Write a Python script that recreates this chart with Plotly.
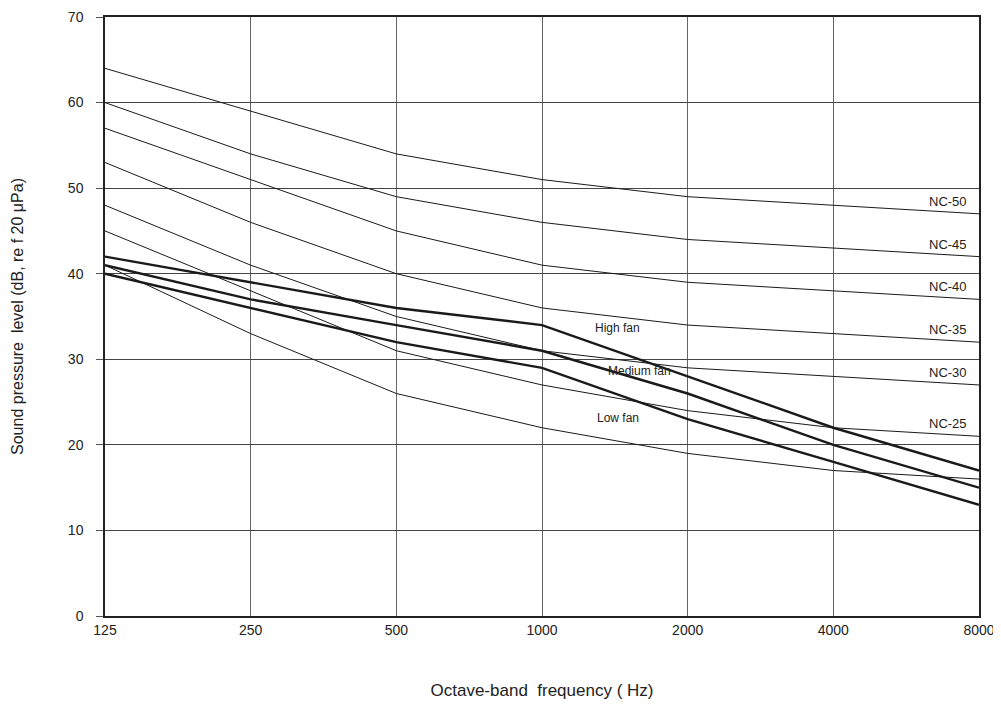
import plotly.graph_objects as go

freqs = ["125", "250", "500", "1000", "2000", "4000", "8000"]

nc_names = ["NC-50", "NC-45", "NC-40", "NC-35", "NC-30", "NC-25", "NC-20"]
nc50 = [64, 59, 54, 51, 49, 48, 47]
nc45 = [60, 54, 49, 46, 44, 43, 42]
nc40 = [57, 51, 45, 41, 39, 38, 37]
nc35 = [53, 46, 40, 36, 34, 33, 32]
nc30 = [48, 41, 35, 31, 29, 28, 27]
nc25 = [45, 38, 31, 27, 24, 22, 21]
nc20 = [41, 33, 26, 22, 19, 17, 16]
nc_curves = [nc50, nc45, nc40, nc35, nc30, nc25, nc20]
nc_labeled = [True, True, True, True, True, True, False]

fan_names = ["High fan", "Medium fan", "Low fan"]
high_fan = [42, 39, 36, 34, 28, 22, 17]
medium_fan = [41, 37, 34, 31, 26, 20, 15]
low_fan = [40, 36, 32, 29, 23, 18, 13]
fan_curves = [high_fan, medium_fan, low_fan]
fan_label_pos = [(3.52, 33.6), (3.67, 28.6), (3.52, 23.1)]

y_ticks = [0, 10, 20, 30, 40, 50, 60, 70]

FONT = "Liberation Sans, Arial, sans-serif"
fig = go.Figure()

for name, vals in zip(nc_names, nc_curves):
    fig.add_trace(go.Scatter(x=freqs, y=vals, mode="lines", name=name,
                             line=dict(color="#1a1a1a", width=1), showlegend=False))
for name, vals in zip(fan_names, fan_curves):
    fig.add_trace(go.Scatter(x=freqs, y=vals, mode="lines", name=name,
                             line=dict(color="#1a1a1a", width=2.4), showlegend=False))

last_idx = len(freqs) - 1
annotations = []
for name, vals, lab in zip(nc_names, nc_curves, nc_labeled):
    if not lab:
        continue
    annotations.append(dict(x=last_idx, y=vals[-1], xref="x", yref="y", text=name,
                            showarrow=False, xanchor="right", yanchor="bottom",
                            xshift=-10, yshift=3,
                            font=dict(family=FONT, size=13, color="#222")))
for name, (px, py) in zip(fan_names, fan_label_pos):
    annotations.append(dict(x=px, y=py, xref="x", yref="y", text=name,
                            showarrow=False, xanchor="center", yanchor="middle",
                            font=dict(family=FONT, size=12, color="#222")))

# page body has an 8px margin, so the figure is sized to fit the 1001x704 window
fig.update_layout(
    width=993, height=696,
    margin=dict(l=97, r=22, t=9, b=88),
    paper_bgcolor="white", plot_bgcolor="white",
    font=dict(family=FONT, size=14, color="#222"),
    annotations=annotations,
    xaxis=dict(
        type="category", range=[0, 6], categoryorder="array", categoryarray=freqs,
        automargin=False,
        showgrid=True, gridcolor="#666", gridwidth=1,
        showline=True, linecolor="#222", linewidth=1.5, mirror=True,
        ticks="", tickfont=dict(family=FONT, size=14, color="#222"),
        title=dict(text="Octave-band  frequency ( Hz)", standoff=48,
                   font=dict(family=FONT, size=17, color="#222")),
        zeroline=False,
    ),
    yaxis=dict(
        range=[0, 70], tickvals=y_ticks, automargin=False,
        showgrid=True, gridcolor="#444", gridwidth=1,
        showline=True, linecolor="#222", linewidth=1.5, mirror=True,
        ticks="outside", ticklen=7, tickcolor="#555", ticklabelstandoff=10,
        tickfont=dict(family=FONT, size=14, color="#222"),
        title=dict(text="Sound pressure  level (dB, re f 20 μPa)", standoff=40,
                   font=dict(family=FONT, size=16, color="#222")),
        zeroline=False,
    ),
)

fig.write_html("out.html")
